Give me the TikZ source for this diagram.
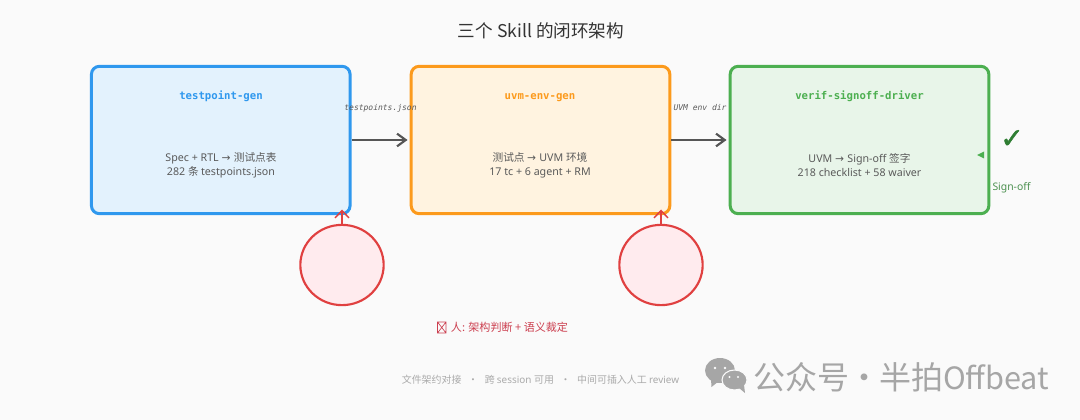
\documentclass[tikz,border=0pt]{standalone}
\usepackage{fontspec}
\setmainfont{Noto Sans}
\newfontfamily\cjk{Noto Sans CJK SC}
\newfontfamily\dv{DejaVu Sans}
\newfontfamily\dvb[FakeBold=1.5]{DejaVu Sans}
\setmonofont{DejaVu Sans Mono}
\usetikzlibrary{arrows.meta,shapes.geometric}
\definecolor{bgc}{HTML}{FAFAFA}
\definecolor{bluec}{HTML}{2F98EE}\definecolor{bluef}{HTML}{E3F2FD}
\definecolor{orangec}{HTML}{FC9A1C}\definecolor{orangef}{HTML}{FFF3E0}
\definecolor{greenc}{HTML}{4CAF50}\definecolor{greenf}{HTML}{E8F5E9}
\definecolor{redc}{HTML}{E04040}\definecolor{redf}{HTML}{FFEBEE}
\definecolor{redt}{HTML}{CC4050}
\definecolor{darkg}{HTML}{2E7D32}
\definecolor{txt}{HTML}{5A5A5A}
\definecolor{arr}{HTML}{555555}
\definecolor{foot}{HTML}{AAAAAA}
\definecolor{wm}{HTML}{A6A6A6}
\tikzset{
  card/.style={draw=#1,line width=2.25pt,rounded corners=6pt,minimum width=194pt,minimum height=110.5pt,inner sep=0pt},
  bodytext/.style={text=txt,font=\fontsize{8}{10.6}\selectfont,align=center,inner sep=0pt},
  cardtitle/.style={font=\ttfamily\bfseries\fontsize{8}{10}\selectfont,inner sep=0pt,anchor=base},
  edgelabel/.style={text=txt,font=\ttfamily\itshape\fontsize{6}{8}\selectfont,inner sep=0pt,anchor=base},
  flow/.style={draw=arr,line width=1.75pt,shorten >=1.6pt,-{Straight Barb[length=6.5pt,width=9.5pt,line width=1.6pt]}},
  review/.style={draw=redc,line width=1.6pt,fill=redf,ellipse,minimum width=62.5pt,minimum height=60.2pt,inner sep=0pt},
  humanarrow/.style={draw=redc,line width=1.1pt,-{Straight Barb[length=5.5pt,width=10.5pt,line width=1.1pt]}},
}
\begin{document}
\begin{tikzpicture}[x=0.75pt,y=-0.75pt]
\useasboundingbox[fill=bgc] (0,0) rectangle (1080,420);
\node (title) at (541,31) [font=\fontsize{13.2}{15}\selectfont,text=black!80,inner sep=0pt] {\cjk 三个 Skill 的闭环架构};
\node (a) at (220.75,140) [card=bluec,fill=bluef] {};
\node (b) at (540.5,140) [card=orangec,fill=orangef] {};
\node (c) at (859.5,140) [card=greenc,fill=greenf] {};
\node (at) at (221,99.5) [cardtitle,text=bluec] {testpoint-gen};
\node (bt) at (540,99.5) [cardtitle,text=orangec] {uvm-env-gen};
\node (ct) at (859.5,99.5) [cardtitle,text=greenc] {verif-signoff-driver};
\node (ab) at (221,165) [bodytext] {Spec + RTL \dv→ \cjk 测试点表\\282 \cjk 条 \normalfont testpoints.json};
\node (bb) at (540,165) [bodytext] {\cjk 测试点 \dv→ \normalfont UVM \cjk 环境\\17 tc + 6 agent + RM};
\node (cb) at (859.5,165) [bodytext] {UVM \dv→ \normalfont Sign-off \cjk 签字\\218 checklist + 58 waiver};
\node (l1) at (380.5,110.5) [edgelabel] {testpoints.json};
\node (l2) at (700,110.5) [edgelabel] {UVM env dir};
\draw[flow] (a.east) -- (b.west);
\draw[flow] (b.east) -- (c.west);
\node (r1) at (342,265) [review] {};
\node (r2) at (661,265) [review] {};
\coordinate (t1) at (342,209.5);
\coordinate (t2) at (661,209.5);
\draw[humanarrow] (r1.north) -- (t1);
\draw[humanarrow] (r2.north) -- (t2);
\node (chk) at (1012,139) [text=darkg,font=\dvb\fontsize{21}{24}\selectfont,inner sep=0pt] {✓};
\node (so) at (1011.5,188) [text=darkg!85,font=\fontsize{7.8}{10}\selectfont,inner sep=0pt] {Sign-off};
\fill[greenc] (977,155) -- (984,151.5) -- (984,158.5) -- cycle;
\draw[redt,line width=.5pt] (437.5,322) rectangle (446,333) (437.5,322) -- (446,333) (446,322) -- (437.5,333);
\node (human) at (509.5,327) [text=redt,font=\fontsize{8.3}{10}\selectfont,inner sep=0pt] {\cjk 人: 架构判断 + 语义裁定};
\node (foot) at (540.5,379.5) [text=foot,font=\fontsize{7.45}{9}\selectfont,inner sep=0pt] {\cjk 文件架约对接\ \ \ ·\ \ \ 跨 \normalfont session \cjk 可用\ \ \ ·\ \ \ 中间可插入人工 \normalfont review};
% watermark
\fill[wm] (720,370.5) ellipse [x radius=15, y radius=12.5];
\fill[wm] (711,379) -- (711.5,387) -- (719,381) -- cycle;
\draw[bgc,line width=.8pt,fill=wm] (734.5,380) ellipse [x radius=12.5, y radius=10];
\fill[wm] (739,388) -- (745,393) -- (744,385) -- cycle;
\fill[bgc] (715,368) circle [radius=1.4] (725,368) circle [radius=1.4] (729.5,377) circle [radius=1.2] (738,377) circle [radius=1.2];
\node (wmk) at (901.5,377) [text=wm,font=\fontsize{24}{26}\selectfont,inner sep=0pt] {\cjk 公众号\hspace{-1pt}·\hspace{-1pt}半拍\fontsize{23}{26}\selectfont Offbeat};
\end{tikzpicture}
\end{document}
